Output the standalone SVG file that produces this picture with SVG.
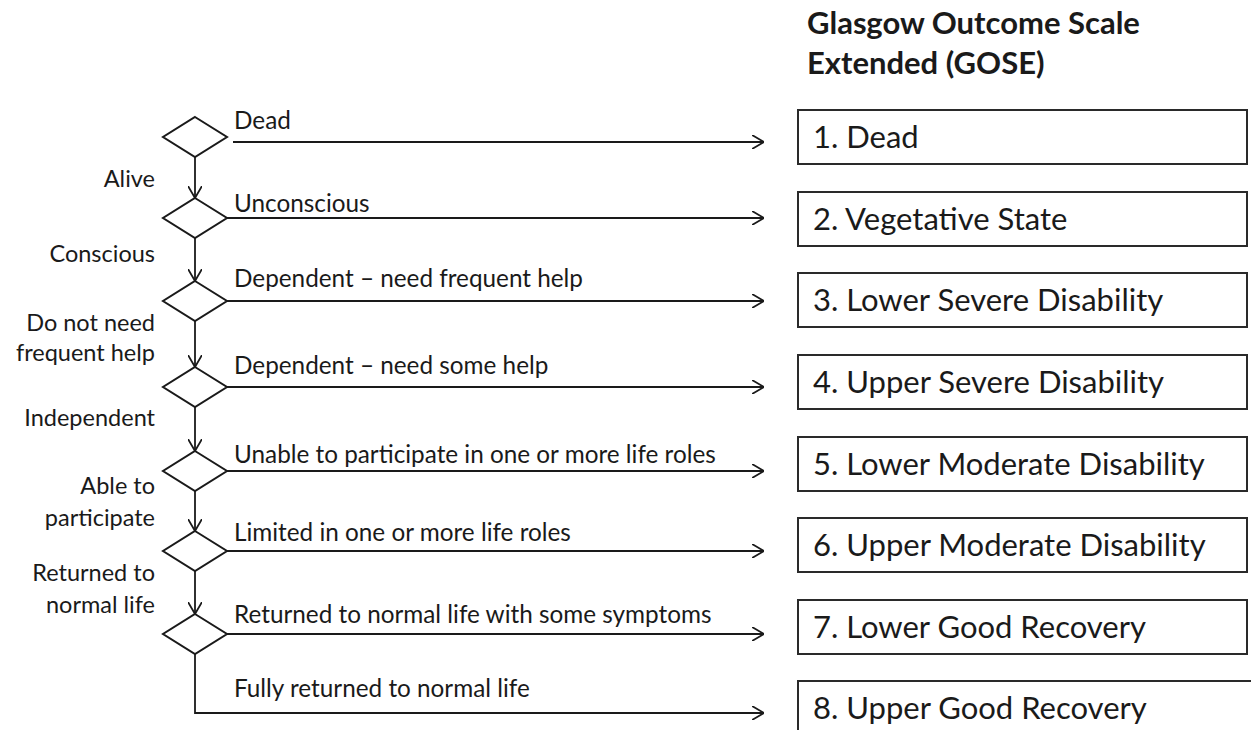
<svg xmlns="http://www.w3.org/2000/svg" width="1251" height="730" viewBox="0 0 1251 730">
<defs>
<style>
text{font-family:Lato,"Liberation Sans",sans-serif;fill:#1a1a1a}
.lbl{font-size:24.3px}
.left{font-size:23.5px;text-anchor:end}
.box rect{fill:#fff;stroke:#2a2a2a;stroke-width:2}
.box text{font-size:31px}
.dia{fill:#fff;stroke:#1a1a1a;stroke-width:2}
.con{fill:none;stroke:#1a1a1a;stroke-width:1.8}
.title{font-size:31px;font-weight:bold}
</style>
<marker id="ah" viewBox="0 0 12 14" refX="12" refY="7" markerWidth="12" markerHeight="14" markerUnits="userSpaceOnUse" orient="auto">
<path d="M0,0 L12,7 L0,14" fill="none" stroke="#1a1a1a" stroke-width="1.8"/>
</marker>
</defs>
<rect width="1251" height="730" fill="#fff"/>

<g id="title">
<text class="title" x="807" y="34">Glasgow Outcome Scale</text>
<text class="title" x="807" y="74">Extended (GOSE)</text>
</g>

<g id="connectors" class="con">
<path d="M195,157 V198" marker-end="url(#ah)"/>
<path d="M195,238 V281" marker-end="url(#ah)"/>
<path d="M195,321 V367" marker-end="url(#ah)"/>
<path d="M195,407 V451" marker-end="url(#ah)"/>
<path d="M195,491 V531" marker-end="url(#ah)"/>
<path d="M195,571 V614" marker-end="url(#ah)"/>
<path d="M233,142 H764" marker-end="url(#ah)"/>
<path d="M227,218 H764" marker-end="url(#ah)"/>
<path d="M227,301 H764" marker-end="url(#ah)"/>
<path d="M227,387 H764" marker-end="url(#ah)"/>
<path d="M227,471 H764" marker-end="url(#ah)"/>
<path d="M227,551 H764" marker-end="url(#ah)"/>
<path d="M227,634 H764" marker-end="url(#ah)"/>
<path d="M195,654 V713 H764" marker-end="url(#ah)"/>
</g>

<g id="decision1"><polygon class="dia" points="195,117 227,137 195,157 163,137"/></g>
<g id="decision2"><polygon class="dia" points="195,198 227,218 195,238 163,218"/></g>
<g id="decision3"><polygon class="dia" points="195,281 227,301 195,321 163,301"/></g>
<g id="decision4"><polygon class="dia" points="195,367 227,387 195,407 163,387"/></g>
<g id="decision5"><polygon class="dia" points="195,451 227,471 195,491 163,471"/></g>
<g id="decision6"><polygon class="dia" points="195,531 227,551 195,571 163,551"/></g>
<g id="decision7"><polygon class="dia" points="195,614 227,634 195,654 163,634"/></g>

<g id="left-labels">
<text class="left" x="155" y="187">Alive</text>
<text class="left" x="155" y="262">Conscious</text>
<text class="left" x="155" y="331">Do not need</text>
<text class="left" x="155" y="361">frequent help</text>
<text class="left" x="155" y="426">Independent</text>
<text class="left" x="155" y="494">Able to</text>
<text class="left" x="155" y="526">participate</text>
<text class="left" x="155" y="581">Returned to</text>
<text class="left" x="155" y="613">normal life</text>
</g>

<g id="branch-labels">
<text class="lbl" x="234" y="129">Dead</text>
<text class="lbl" x="234" y="212">Unconscious</text>
<text class="lbl" x="234" y="287">Dependent – need frequent help</text>
<text class="lbl" x="234" y="374">Dependent – need some help</text>
<text class="lbl" x="234" y="463">Unable to participate in one or more life roles</text>
<text class="lbl" x="234" y="541">Limited in one or more life roles</text>
<text class="lbl" x="234" y="623">Returned to normal life with some symptoms</text>
<text class="lbl" x="234" y="697">Fully returned to normal life</text>
</g>

<g id="gose1" class="box"><rect x="798" y="110" width="449" height="54"/><text x="813" y="148">1. Dead</text></g>
<g id="gose2" class="box"><rect x="798" y="192" width="449" height="54"/><text x="813" y="230">2. Vegetative State</text></g>
<g id="gose3" class="box"><rect x="798" y="273" width="449" height="54"/><text x="813" y="311">3. Lower Severe Disability</text></g>
<g id="gose4" class="box"><rect x="798" y="355" width="449" height="54"/><text x="813" y="393">4. Upper Severe Disability</text></g>
<g id="gose5" class="box"><rect x="798" y="437" width="449" height="54"/><text x="813" y="475">5. Lower Moderate Disability</text></g>
<g id="gose6" class="box"><rect x="798" y="518" width="449" height="54"/><text x="813" y="556">6. Upper Moderate Disability</text></g>
<g id="gose7" class="box"><rect x="798" y="600" width="449" height="54"/><text x="813" y="638">7. Lower Good Recovery</text></g>
<g id="gose8" class="box"><rect x="798" y="681" width="460" height="60"/><text x="813" y="719">8. Upper Good Recovery</text></g>
</svg>
